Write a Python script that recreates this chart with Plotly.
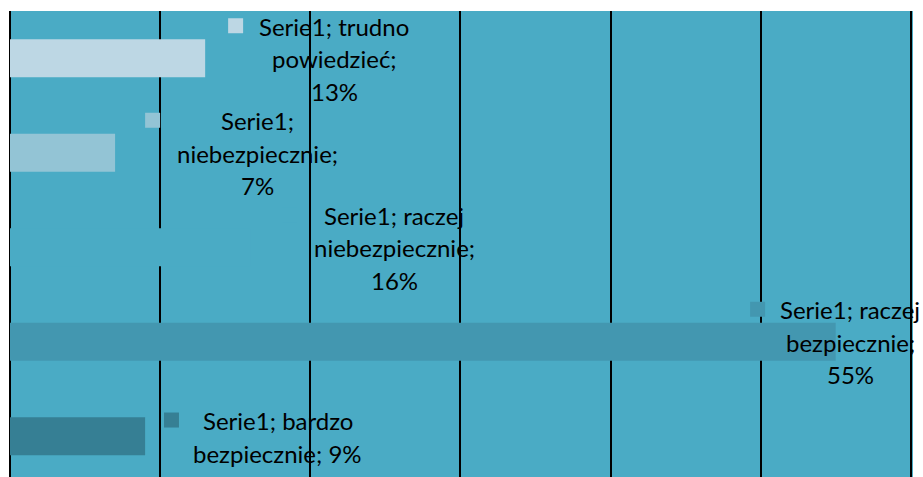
import plotly.graph_objects as go

# Survey answers, listed from the bottom bar to the top bar
categories = ["bardzo bezpiecznie", "raczej bezpiecznie", "raczej niebezpiecznie",
              "niebezpiecznie", "trudno powiedzieć"]
values = [9, 55, 16, 7, 13]
series_name = "Serie1"
x_ticks = [0, 10, 20, 30, 40, 50, 60]

bar_colors = ["#367F94", "#4397B0", "#4AABC5", "#93C4D5", "#BDD7E4"]
plot_bg = "#4AABC5"

# words per line in each wrapped data label
label_wrap = [[2, 2], [2, 1, 1], [2, 1, 1], [1, 1, 1], [2, 1, 1]]
# horizontal centre of each data label, in value-axis units
label_x = [17.85, 55.96, 25.58, 16.46, 21.59]
# legend-key offset from the label centre, in pixels
key_dx = [-106.5, -92.5, -104.5, -104.5, -98.5]

LINE_PX = 32.5
FONT = dict(family="Lato, Open Sans, sans-serif", size=24, color="#000000")

y_pos = list(range(len(categories)))

fig = go.Figure(
    go.Bar(
        x=values,
        y=y_pos,
        orientation="h",
        width=0.4,
        marker=dict(color=bar_colors, line=dict(width=0)),
        name=series_name,
        hoverinfo="skip",
    )
)

annotations = []
shapes = []
for i, cat in enumerate(categories):
    words = f"{series_name}; {cat}; {values[i]}%".split(" ")
    lines, k = [], 0
    for n in label_wrap[i]:
        lines.append(" ".join(words[k:k + n]))
        k += n
    n_lines = len(lines)
    for j, line in enumerate(lines):
        down = (j - (n_lines - 1) / 2) * LINE_PX + 0.5
        annotations.append(dict(
            x=label_x[i], y=y_pos[i], xref="x", yref="y",
            text=line, showarrow=False, font=FONT,
            xanchor="center", yanchor="middle", yshift=-down,
        ))
    up = (n_lines - 1) / 2 * LINE_PX
    shapes.append(dict(
        type="rect", xref="x", yref="y",
        xsizemode="pixel", ysizemode="pixel",
        xanchor=label_x[i], yanchor=y_pos[i],
        x0=key_dx[i] - 7.5, x1=key_dx[i] + 7.5,
        y0=up - 7.5, y1=up + 7.5,
        fillcolor=bar_colors[i], line=dict(width=0), layer="above",
    ))

fig.update_layout(
    width=923, height=477,
    margin=dict(l=10, r=10, t=11, b=0, pad=0),
    paper_bgcolor="#FFFFFF",
    plot_bgcolor=plot_bg,
    showlegend=False,
    annotations=annotations,
    shapes=shapes,
    xaxis=dict(
        range=[0, 60.15], tickvals=x_ticks, showticklabels=False, ticks="",
        showgrid=True, gridcolor="#000000", gridwidth=2,
        zeroline=True, zerolinecolor="#000000", zerolinewidth=2,
        showline=False, fixedrange=True,
    ),
    yaxis=dict(
        range=[-0.431, 4.5], tickvals=y_pos, ticktext=categories,
        showticklabels=False, ticks="", showgrid=False, zeroline=False,
        showline=False, fixedrange=True,
    ),
)

fig.write_html("out.html", config=dict(displayModeBar=False))
